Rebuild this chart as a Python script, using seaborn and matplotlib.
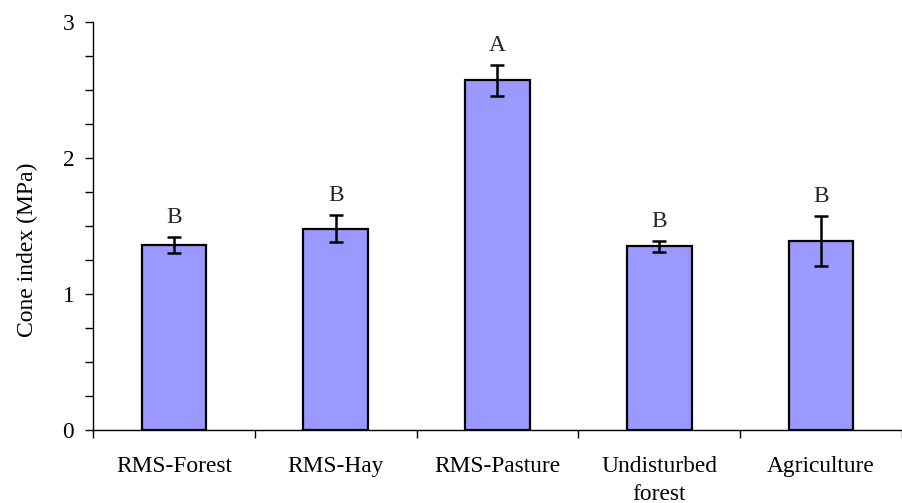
import matplotlib
matplotlib.use("Agg")
import matplotlib.pyplot as plt
from matplotlib.ticker import MultipleLocator, FixedLocator
import seaborn as sns
import pandas as pd

categories = ["RMS-Forest", "RMS-Hay", "RMS-Pasture", "Undisturbed\nforest", "Agriculture"]
cone_index = [1.36, 1.48, 2.57, 1.35, 1.39]
std_error = [0.06, 0.10, 0.115, 0.04, 0.185]
groups = ["B", "B", "A", "B", "B"]

sns.set_theme(style="white")
plt.rcParams["font.family"] = ["Liberation Serif", "DejaVu Serif"]
plt.rcParams["font.size"] = 16

df = pd.DataFrame({"site": categories, "ci": cone_index})

fig = plt.figure(figsize=(9.03, 5.03), dpi=100)
ax = fig.add_axes([93 / 903, (503 - 430) / 503, (902 - 93) / 903, (430 - 22) / 503])

sns.barplot(data=df, x="site", y="ci", color="#9999FF", saturation=1,
            width=0.40, edgecolor="black", linewidth=1.6, errorbar=None, ax=ax)

xs = range(len(categories))
ax.errorbar(xs, cone_index, yerr=std_error, fmt="none", ecolor="black",
            elinewidth=1.8, capsize=5, capthick=1.8, zorder=5)

for x, y, e, g in zip(xs, cone_index, std_error, groups):
    ax.annotate(g, (x, y + e), xytext=(0, 6.5), textcoords="offset points",
                ha="center", va="bottom", fontsize=16.8)

ax.set_xlim(-0.5, len(categories) - 0.5)
ax.set_ylim(0, 3)
ax.yaxis.set_major_locator(MultipleLocator(1))
ax.yaxis.set_minor_locator(MultipleLocator(0.25))
ax.xaxis.set_minor_locator(FixedLocator([i - 0.5 for i in range(len(categories) + 1)]))

ax.tick_params(axis="y", which="both", direction="out", length=5.5, width=1,
               color="black", left=True, labelsize=16.8, pad=8, labelcolor="black")
ax.tick_params(axis="x", which="major", length=0, labelsize=16.8, pad=19,
               labelcolor="black")
ax.tick_params(axis="x", which="minor", direction="out", length=6, width=1,
               color="black", bottom=True)
for lbl in ax.get_xticklabels():
    lbl.set_linespacing(1.4)
    lbl.set_verticalalignment("top")

ax.set_xlabel("")
ax.set_ylabel("Cone index (MPa)", fontsize=17, color="black")
ax.yaxis.set_label_coords(-55 / 809, 0.441)

for side in ["top", "right"]:
    ax.spines[side].set_visible(False)
for side in ["left", "bottom"]:
    ax.spines[side].set_color("black")
    ax.spines[side].set_linewidth(1)

fig.savefig("out.png", dpi=100)
